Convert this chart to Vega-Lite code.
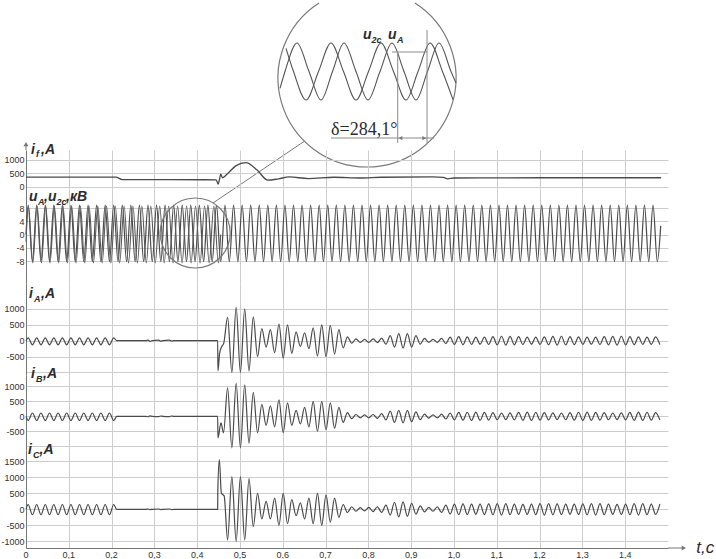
{
"$schema":"https://vega.github.io/schema/vega-lite/v6.json",
"background":"white",
"padding":{"left":0,"top":0,"right":0,"bottom":0},
"spacing":0,
"bounds":"flush",
"resolve":{"scale":{"x":"independent","y":"independent"}},
"config":{"view":{"stroke":null},"axis":{"labelFont":"Liberation Sans","labelFontSize":9,"labelColor":"#333","gridColor":"#cdcdcd","domainColor":"#777","ticks":false,"labelPadding":2,"labelOverlap":false},"text":{"font":"Liberation Sans"}},
"datasets":{
"xl":[{"t":0,"s":"0"},{"t":0.1,"s":"0,1"},{"t":0.2,"s":"0,2"},{"t":0.3,"s":"0,3"},{"t":0.4,"s":"0,4"},{"t":0.5,"s":"0,5"},{"t":0.6,"s":"0,6"},{"t":0.7,"s":"0,7"},{"t":0.8,"s":"0,8"},{"t":0.9,"s":"0,9"},{"t":1.0,"s":"1,0"},{"t":1.1,"s":"1,1"},{"t":1.2,"s":"1,2"},{"t":1.3,"s":"1,3"},{"t":1.4,"s":"1,4"}],
"ua":[{"t":0,"v":0},
{"t":0.005,"v":8.9},{"t":0.015,"v":-8.2},{"t":0.025,"v":8.9},{"t":0.035,"v":-8.2},{"t":0.045,"v":8.9},{"t":0.055,"v":-8.2},{"t":0.065,"v":8.9},{"t":0.075,"v":-8.2},{"t":0.085,"v":8.9},{"t":0.095,"v":-8.2},
{"t":0.105,"v":8.9},{"t":0.115,"v":-8.2},{"t":0.125,"v":8.9},{"t":0.135,"v":-8.2},{"t":0.145,"v":8.9},{"t":0.155,"v":-8.2},{"t":0.165,"v":8.9},{"t":0.175,"v":-8.2},{"t":0.185,"v":8.9},{"t":0.195,"v":-8.2},
{"t":0.205,"v":8.9},{"t":0.215,"v":-8.2},{"t":0.225,"v":8.9},{"t":0.235,"v":-8.2},{"t":0.245,"v":8.9},{"t":0.255,"v":-8.2},{"t":0.265,"v":8.9},{"t":0.275,"v":-8.2},{"t":0.285,"v":8.9},{"t":0.295,"v":-8.2},
{"t":0.305,"v":8.9},{"t":0.315,"v":-8.2},{"t":0.325,"v":8.9},{"t":0.335,"v":-8.2},{"t":0.345,"v":8.9},{"t":0.355,"v":-8.2},{"t":0.365,"v":8.9},{"t":0.375,"v":-8.2},{"t":0.385,"v":8.9},{"t":0.395,"v":-8.2},
{"t":0.405,"v":8.9},{"t":0.415,"v":-8.2},{"t":0.425,"v":8.9},{"t":0.435,"v":-8.2},{"t":0.445,"v":8.9},{"t":0.455,"v":-8.2},{"t":0.465,"v":8.9},{"t":0.475,"v":-8.2},{"t":0.485,"v":8.9},{"t":0.495,"v":-8.2},
{"t":0.505,"v":8.9},{"t":0.515,"v":-8.2},{"t":0.525,"v":8.9},{"t":0.535,"v":-8.2},{"t":0.545,"v":8.9},{"t":0.555,"v":-8.2},{"t":0.565,"v":8.9},{"t":0.575,"v":-8.2},{"t":0.585,"v":8.9},{"t":0.595,"v":-8.2},
{"t":0.605,"v":8.9},{"t":0.615,"v":-8.2},{"t":0.625,"v":8.9},{"t":0.635,"v":-8.2},{"t":0.645,"v":8.9},{"t":0.655,"v":-8.2},{"t":0.665,"v":8.9},{"t":0.675,"v":-8.2},{"t":0.685,"v":8.9},{"t":0.695,"v":-8.2},
{"t":0.705,"v":8.9},{"t":0.715,"v":-8.2},{"t":0.725,"v":8.9},{"t":0.735,"v":-8.2},{"t":0.745,"v":8.9},{"t":0.755,"v":-8.2},{"t":0.765,"v":8.9},{"t":0.775,"v":-8.2},{"t":0.785,"v":8.9},{"t":0.795,"v":-8.2},
{"t":0.805,"v":8.9},{"t":0.815,"v":-8.2},{"t":0.825,"v":8.9},{"t":0.835,"v":-8.2},{"t":0.845,"v":8.9},{"t":0.855,"v":-8.2},{"t":0.865,"v":8.9},{"t":0.875,"v":-8.2},{"t":0.885,"v":8.9},{"t":0.895,"v":-8.2},
{"t":0.905,"v":8.9},{"t":0.915,"v":-8.2},{"t":0.925,"v":8.9},{"t":0.935,"v":-8.2},{"t":0.945,"v":8.9},{"t":0.955,"v":-8.2},{"t":0.965,"v":8.9},{"t":0.975,"v":-8.2},{"t":0.985,"v":8.9},{"t":0.995,"v":-8.2},
{"t":1.005,"v":8.9},{"t":1.015,"v":-8.2},{"t":1.025,"v":8.9},{"t":1.035,"v":-8.2},{"t":1.045,"v":8.9},{"t":1.055,"v":-8.2},{"t":1.065,"v":8.9},{"t":1.075,"v":-8.2},{"t":1.085,"v":8.9},{"t":1.095,"v":-8.2},
{"t":1.105,"v":8.9},{"t":1.115,"v":-8.2},{"t":1.125,"v":8.9},{"t":1.135,"v":-8.2},{"t":1.145,"v":8.9},{"t":1.155,"v":-8.2},{"t":1.165,"v":8.9},{"t":1.175,"v":-8.2},{"t":1.185,"v":8.9},{"t":1.195,"v":-8.2},
{"t":1.205,"v":8.9},{"t":1.215,"v":-8.2},{"t":1.225,"v":8.9},{"t":1.235,"v":-8.2},{"t":1.245,"v":8.9},{"t":1.255,"v":-8.2},{"t":1.265,"v":8.9},{"t":1.275,"v":-8.2},{"t":1.285,"v":8.9},{"t":1.295,"v":-8.2},
{"t":1.305,"v":8.9},{"t":1.315,"v":-8.2},{"t":1.325,"v":8.9},{"t":1.335,"v":-8.2},{"t":1.345,"v":8.9},{"t":1.355,"v":-8.2},{"t":1.365,"v":8.9},{"t":1.375,"v":-8.2},{"t":1.385,"v":8.9},{"t":1.395,"v":-8.2},
{"t":1.405,"v":8.9},{"t":1.415,"v":-8.2},{"t":1.425,"v":8.9},{"t":1.435,"v":-8.2},{"t":1.445,"v":8.9},{"t":1.455,"v":-8.2},{"t":1.465,"v":8.9},{"t":1.475,"v":-8.2},{"t":1.483,"v":2.6}],
"u2c":[{"t":0,"v":-2.2},
{"t":0.0058,"v":8.6},{"t":0.0159,"v":-8.6},{"t":0.026,"v":8.6},{"t":0.0361,"v":-8.6},{"t":0.0462,"v":8.6},{"t":0.0562,"v":-8.6},{"t":0.0663,"v":8.6},{"t":0.0764,"v":-8.6},{"t":0.0865,"v":8.6},{"t":0.0966,"v":-8.6},
{"t":0.1067,"v":8.6},{"t":0.1169,"v":-8.6},{"t":0.127,"v":8.6},{"t":0.1372,"v":-8.6},{"t":0.1474,"v":8.6},{"t":0.1575,"v":-8.6},{"t":0.1677,"v":8.6},{"t":0.1779,"v":-8.6},{"t":0.1881,"v":8.6},{"t":0.1982,"v":-8.6},
{"t":0.2085,"v":8.6},{"t":0.2188,"v":-8.6},{"t":0.2292,"v":8.6},{"t":0.2395,"v":-8.6},{"t":0.2498,"v":8.6},{"t":0.2602,"v":-8.6},{"t":0.2707,"v":8.6},{"t":0.2811,"v":-8.6},{"t":0.2915,"v":8.6},{"t":0.302,"v":-8.6},
{"t":0.3124,"v":8.6},{"t":0.3229,"v":-8.6},{"t":0.3333,"v":8.6},{"t":0.3437,"v":-8.6},{"t":0.3542,"v":8.6},{"t":0.3647,"v":-8.6},{"t":0.3752,"v":8.6},{"t":0.3857,"v":-8.6},{"t":0.3962,"v":8.6},{"t":0.4067,"v":-8.6},
{"t":0.4173,"v":8.6},{"t":0.428,"v":-8.6},{"t":0.4388,"v":8.6},{"t":0.4495,"v":-8.6},{"t":0.455,"v":0}],
"fld":[{"t":0,"v":354},{"t":0.21,"v":354},{"t":0.225,"v":262},{"t":0.4445,"v":252},{"t":0.449,"v":90},{"t":0.4525,"v":300},{"t":0.455,"v":470},{"t":0.459,"v":330},{"t":0.47,"v":470},{"t":0.49,"v":780},{"t":0.514,"v":900},{"t":0.54,"v":620},{"t":0.565,"v":240},{"t":0.59,"v":290},{"t":0.615,"v":360},{"t":0.66,"v":300},{"t":0.72,"v":350},{"t":0.78,"v":320},{"t":0.83,"v":350},{"t":0.95,"v":360},{"t":0.975,"v":345},{"t":0.985,"v":290},{"t":1.0,"v":320},{"t":1.2,"v":330},{"t":1.484,"v":330}],
"cur":[{"t":0,"a":0,"b":0,"c":0},
{"t":0.005,"a":90,"b":-140,"c":150},{"t":0.015,"a":-130,"b":110,"c":-170},{"t":0.025,"a":90,"b":-140,"c":150},{"t":0.035,"a":-130,"b":110,"c":-170},{"t":0.045,"a":90,"b":-140,"c":150},{"t":0.055,"a":-130,"b":110,"c":-170},{"t":0.065,"a":90,"b":-140,"c":150},{"t":0.075,"a":-130,"b":110,"c":-170},{"t":0.085,"a":90,"b":-140,"c":150},{"t":0.095,"a":-130,"b":110,"c":-170},
{"t":0.105,"a":90,"b":-140,"c":150},{"t":0.115,"a":-130,"b":110,"c":-170},{"t":0.125,"a":90,"b":-140,"c":150},{"t":0.135,"a":-130,"b":110,"c":-170},{"t":0.145,"a":90,"b":-140,"c":150},{"t":0.155,"a":-130,"b":110,"c":-170},{"t":0.165,"a":90,"b":-140,"c":150},{"t":0.175,"a":-130,"b":110,"c":-170},{"t":0.185,"a":90,"b":-140,"c":150},{"t":0.195,"a":-130,"b":110,"c":-170},
{"t":0.205,"a":90,"b":-140,"c":150},{"t":0.212,"a":0,"b":0,"c":0},
{"t":0.28,"a":0,"b":0,"c":0},{"t":0.285,"a":20,"b":-15,"c":10},{"t":0.29,"a":-20,"b":15,"c":-10},{"t":0.295,"a":0,"b":0,"c":0},{"t":0.31,"a":15,"b":-10,"c":10},{"t":0.315,"a":-15,"b":10,"c":-10},{"t":0.32,"a":0,"b":0,"c":0},{"t":0.335,"a":15,"b":-10,"c":10},{"t":0.34,"a":-10,"b":10,"c":-10},{"t":0.345,"a":0,"b":0,"c":0},
{"t":0.4478,"a":0,"b":0,"c":0},
{"t":0.4485,"a":-950},{"t":0.4525,"a":-380},{"t":0.458,"a":-170},{"t":0.462,"a":-80},
{"t":0.4485,"b":-720},{"t":0.4555,"b":-220},{"t":0.4615,"b":-550},
{"t":0.4482,"c":600},{"t":0.4517,"c":1550},{"t":0.4565,"c":500},{"t":0.463,"c":420},
{"t":0.471,"a":730,"b":950,"c":-960},{"t":0.481,"a":-1000,"b":-1050,"c":1020},{"t":0.491,"a":1050,"b":1100,"c":-1000},{"t":0.501,"a":-1000,"b":-1050,"c":1020},{"t":0.511,"a":1000,"b":1050,"c":-960},{"t":0.521,"a":-950,"b":-900,"c":960},{"t":0.531,"a":750,"b":800,"c":-540},{"t":0.541,"a":-500,"b":-550,"c":500},{"t":0.551,"a":380,"b":400,"c":-300},{"t":0.561,"a":-200,"b":-300,"c":250},
{"t":0.571,"a":350,"b":350,"c":-300},{"t":0.581,"a":-380,"b":-350,"c":350},{"t":0.591,"a":520,"b":550,"c":-500},{"t":0.601,"a":-550,"b":-550,"c":500},{"t":0.611,"a":500,"b":450,"c":-450},{"t":0.621,"a":-400,"b":-300,"c":300},{"t":0.631,"a":280,"b":200,"c":-200},{"t":0.641,"a":-180,"b":-250,"c":200},{"t":0.651,"a":250,"b":300,"c":-300},{"t":0.661,"a":-250,"b":-350,"c":350},
{"t":0.671,"a":400,"b":500,"c":-450},{"t":0.681,"a":-480,"b":-500,"c":500},{"t":0.691,"a":500,"b":500,"c":-500},{"t":0.701,"a":-500,"b":-450,"c":450},{"t":0.711,"a":480,"b":450,"c":-400},{"t":0.721,"a":-420,"b":-400,"c":350},{"t":0.731,"a":350,"b":300,"c":-250},{"t":0.741,"a":-230,"b":-200,"c":150},{"t":0.751,"a":120,"b":120,"c":-100},{"t":0.761,"a":-80,"b":-80,"c":80},
{"t":0.771,"a":60,"b":60,"c":-60},{"t":0.781,"a":-50,"b":-50,"c":50},{"t":0.791,"a":40,"b":50,"c":-50},{"t":0.801,"a":-50,"b":-50,"c":60},{"t":0.811,"a":60,"b":60,"c":-70},{"t":0.821,"a":-60,"b":-70,"c":80},{"t":0.831,"a":80,"b":90,"c":-100},{"t":0.841,"a":-110,"b":-120,"c":130},{"t":0.851,"a":160,"b":170,"c":-180},{"t":0.861,"a":-200,"b":-200,"c":220},
{"t":0.871,"a":220,"b":200,"c":-240},{"t":0.881,"a":-230,"b":-220,"c":230},{"t":0.891,"a":220,"b":200,"c":-220},{"t":0.901,"a":-200,"b":-180,"c":190},{"t":0.911,"a":160,"b":150,"c":-150},{"t":0.921,"a":-110,"b":-110,"c":110},{"t":0.931,"a":70,"b":70,"c":-80},{"t":0.941,"a":-50,"b":-60,"c":60},{"t":0.951,"a":40,"b":50,"c":-60},{"t":0.961,"a":-50,"b":-50,"c":80},
{"t":0.971,"a":70,"b":70,"c":-100},{"t":0.981,"a":-90,"b":-90,"c":130},{"t":0.991,"a":110,"b":110,"c":-150},{"t":1.001,"a":-120,"b":-120,"c":160},{"t":1.011,"a":130,"b":130,"c":-170},{"t":1.021,"a":-125,"b":-130,"c":170},{"t":1.031,"a":120,"b":135,"c":-165},{"t":1.041,"a":-115,"b":-140,"c":160},{"t":1.051,"a":110,"b":140,"c":-155},{"t":1.061,"a":-110,"b":-135,"c":160},
{"t":1.071,"a":115,"b":130,"c":-165},{"t":1.081,"a":-120,"b":-125,"c":170},{"t":1.091,"a":130,"b":120,"c":-175},{"t":1.101,"a":-135,"b":-115,"c":180},{"t":1.111,"a":140,"b":110,"c":-180},{"t":1.121,"a":-140,"b":-110,"c":175},{"t":1.131,"a":135,"b":115,"c":-170},{"t":1.141,"a":-130,"b":-120,"c":165},{"t":1.151,"a":125,"b":130,"c":-160},{"t":1.161,"a":-120,"b":-135,"c":155},
{"t":1.171,"a":115,"b":140,"c":-160},{"t":1.181,"a":-110,"b":-140,"c":165},{"t":1.191,"a":110,"b":135,"c":-170},{"t":1.201,"a":-115,"b":-130,"c":175},{"t":1.211,"a":120,"b":125,"c":-180},{"t":1.221,"a":-130,"b":-120,"c":180},{"t":1.231,"a":135,"b":115,"c":-175},{"t":1.241,"a":-140,"b":-110,"c":170},{"t":1.251,"a":140,"b":110,"c":-165},{"t":1.261,"a":-135,"b":-115,"c":160},
{"t":1.271,"a":130,"b":120,"c":-155},{"t":1.281,"a":-125,"b":-130,"c":160},{"t":1.291,"a":120,"b":135,"c":-165},{"t":1.301,"a":-115,"b":-140,"c":170},{"t":1.311,"a":110,"b":140,"c":-175},{"t":1.321,"a":-110,"b":-135,"c":180},{"t":1.331,"a":115,"b":130,"c":-180},{"t":1.341,"a":-120,"b":-125,"c":175},{"t":1.351,"a":125,"b":120,"c":-170},{"t":1.361,"a":-130,"b":-115,"c":165},
{"t":1.371,"a":135,"b":110,"c":-160},{"t":1.381,"a":-140,"b":-110,"c":155},{"t":1.391,"a":140,"b":115,"c":-160},{"t":1.401,"a":-135,"b":-120,"c":165},{"t":1.411,"a":130,"b":130,"c":-170},{"t":1.421,"a":-125,"b":-135,"c":175},{"t":1.431,"a":120,"b":140,"c":-180},{"t":1.441,"a":-115,"b":-140,"c":175},{"t":1.451,"a":110,"b":135,"c":-170},{"t":1.461,"a":-115,"b":-130,"c":165},
{"t":1.471,"a":120,"b":125,"c":-160},{"t":1.481,"a":-125,"b":-120,"c":165}],
"ins":[
{"s":"c","ms":-70.83,"v":7.0},{"s":"c","ms":-67.71,"v":0},{"s":"c","ms":-62.5,"v":-8.6},{"s":"c","ms":-57.29,"v":0},{"s":"c","ms":-52.08,"v":8.6},{"s":"c","ms":-46.88,"v":0},{"s":"c","ms":-41.67,"v":-8.6},{"s":"c","ms":-36.46,"v":0},{"s":"c","ms":-31.25,"v":8.6},{"s":"c","ms":-26.04,"v":0},{"s":"c","ms":-20.83,"v":-8.6},{"s":"c","ms":-15.83,"v":0},{"s":"c","ms":-10.83,"v":8.6},{"s":"c","ms":-5.63,"v":0},{"s":"c","ms":-1.25,"v":-8.5},
{"s":"a","ms":-73.33,"v":-5.1},{"s":"a","ms":-71.25,"v":0},{"s":"a","ms":-66.25,"v":8.6},{"s":"a","ms":-61.25,"v":0},{"s":"a","ms":-56.25,"v":-8.6},{"s":"a","ms":-51.46,"v":0},{"s":"a","ms":-46.67,"v":8.6},{"s":"a","ms":-41.67,"v":0},{"s":"a","ms":-36.67,"v":-8.6},{"s":"a","ms":-31.67,"v":0},{"s":"a","ms":-26.67,"v":8.6},{"s":"a","ms":-21.67,"v":0},{"s":"a","ms":-16.67,"v":-8.6},{"s":"a","ms":-11.88,"v":0},{"s":"a","ms":-7.08,"v":8.6},{"s":"a","ms":-2.08,"v":0},{"s":"a","ms":0,"v":-3.5}]
},
"vconcat":[
{"width":642,"height":147,
 "layer":[
  {"data":{"values":[{}]},"mark":{"type":"point","shape":"M -0.5384 -0.8427 A 1 1 0 1 0 0.5384 -0.8427","size":31684,"filled":false,"color":"#7a7a7a","strokeWidth":1.2,"opacity":1},
   "encoding":{"x":{"datum":-37.08,"type":"quantitative","scale":{"domain":[-179.17,88.33]},"axis":null},"y":{"datum":-1.96,"type":"quantitative","scale":{"domain":[-23.69,20.67]},"axis":null}}},
  {"data":{"name":"ins"},"mark":{"type":"line","interpolate":"monotone","color":"#555","strokeWidth":1.1},
   "encoding":{"x":{"field":"ms","type":"quantitative","scale":{"domain":[-179.17,88.33]},"axis":null},"y":{"field":"v","type":"quantitative","scale":{"domain":[-23.69,20.67]},"axis":null},"detail":{"field":"s"}}},
  {"data":{"values":[{}]},"mark":{"type":"rule","color":"#8a8a8a","strokeWidth":1},
   "encoding":{"x":{"datum":-24.29,"type":"quantitative","scale":{"domain":[-179.17,88.33]},"axis":null},"y":{"datum":5.88,"type":"quantitative","scale":{"domain":[-23.69,20.67]},"axis":null},"y2":{"datum":-21.57}}},
  {"data":{"values":[{}]},"mark":{"type":"rule","color":"#8a8a8a","strokeWidth":1},
   "encoding":{"x":{"datum":-12.08,"type":"quantitative","scale":{"domain":[-179.17,88.33]},"axis":null},"y":{"datum":12.52,"type":"quantitative","scale":{"domain":[-23.69,20.67]},"axis":null},"y2":{"datum":-21.57}}},
  {"data":{"values":[{}]},"mark":{"type":"rule","color":"#8a8a8a","strokeWidth":1},
   "encoding":{"x":{"datum":-26.67,"type":"quantitative","scale":{"domain":[-179.17,88.33]},"axis":null},"x2":{"datum":-12.08},"y":{"datum":5.88,"type":"quantitative","scale":{"domain":[-23.69,20.67]},"axis":null}}},
  {"data":{"values":[{}]},"mark":{"type":"rule","color":"#8a8a8a","strokeWidth":1},
   "encoding":{"x":{"datum":-52.08,"type":"quantitative","scale":{"domain":[-179.17,88.33]},"axis":null},"x2":{"datum":-9.17},"y":{"datum":-20.07,"type":"quantitative","scale":{"domain":[-23.69,20.67]},"axis":null}}},
  {"data":{"values":[{}]},"mark":{"type":"rule","color":"#7a7a7a","strokeWidth":1},
   "encoding":{"x":{"datum":-101.25,"type":"quantitative","scale":{"domain":[-179.17,88.33]},"axis":null},"x2":{"datum":-63.33},"y":{"datum":-39.68,"type":"quantitative","scale":{"domain":[-23.69,20.67]},"axis":null},"y2":{"datum":-21.12}}},
  {"data":{"values":[{}]},"mark":{"type":"point","shape":"triangle-left","size":18,"filled":true,"color":"#777","opacity":1},
   "encoding":{"x":{"datum":-23.13,"type":"quantitative","scale":{"domain":[-179.17,88.33]},"axis":null},"y":{"datum":-20.07,"type":"quantitative","scale":{"domain":[-23.69,20.67]},"axis":null}}},
  {"data":{"values":[{}]},"mark":{"type":"point","shape":"triangle-right","size":18,"filled":true,"color":"#777","opacity":1},
   "encoding":{"x":{"datum":-13.25,"type":"quantitative","scale":{"domain":[-179.17,88.33]},"axis":null},"y":{"datum":-20.07,"type":"quantitative","scale":{"domain":[-23.69,20.67]},"axis":null}}},
  {"data":{"values":[{}]},"mark":{"type":"text","text":"u","align":"left","baseline":"alphabetic","fontSize":14,"fontStyle":"italic","fontWeight":"bold","color":"#2b2b2b"},
   "encoding":{"x":{"datum":-38.75,"type":"quantitative","scale":{"domain":[-179.17,88.33]},"axis":null},"y":{"datum":9.9,"type":"quantitative","scale":{"domain":[-23.69,20.67]},"axis":null}}},
  {"data":{"values":[{}]},"mark":{"type":"text","text":"2c","align":"left","baseline":"alphabetic","dx":8.5,"dy":4,"fontSize":9,"fontStyle":"italic","fontWeight":"bold","color":"#2b2b2b"},
   "encoding":{"x":{"datum":-38.75,"type":"quantitative","scale":{"domain":[-179.17,88.33]},"axis":null},"y":{"datum":9.9,"type":"quantitative","scale":{"domain":[-23.69,20.67]},"axis":null}}},
  {"data":{"values":[{}]},"mark":{"type":"text","text":"u","align":"left","baseline":"alphabetic","dx":25,"fontSize":14,"fontStyle":"italic","fontWeight":"bold","color":"#2b2b2b"},
   "encoding":{"x":{"datum":-38.75,"type":"quantitative","scale":{"domain":[-179.17,88.33]},"axis":null},"y":{"datum":9.9,"type":"quantitative","scale":{"domain":[-23.69,20.67]},"axis":null}}},
  {"data":{"values":[{}]},"mark":{"type":"text","text":"A","align":"left","baseline":"alphabetic","dx":34,"dy":4,"fontSize":9,"fontStyle":"italic","fontWeight":"bold","color":"#2b2b2b"},
   "encoding":{"x":{"datum":-38.75,"type":"quantitative","scale":{"domain":[-179.17,88.33]},"axis":null},"y":{"datum":9.9,"type":"quantitative","scale":{"domain":[-23.69,20.67]},"axis":null}}},
  {"data":{"values":[{}]},"mark":{"type":"text","text":"δ=284,1°","align":"left","baseline":"alphabetic","font":"Liberation Serif","fontSize":18,"color":"#2b2b2b"},
   "encoding":{"x":{"datum":-52.08,"type":"quantitative","scale":{"domain":[-179.17,88.33]},"axis":null},"y":{"datum":-19.16,"type":"quantitative","scale":{"domain":[-23.69,20.67]},"axis":null}}}
 ]},
{"width":642,"height":39,
 "resolve":{"axis":{"x":"independent","y":"independent"}},
 "layer":[
  {"data":{"name":"fld"},"mark":{"type":"line","interpolate":"monotone","color":"#4a4a4a","strokeWidth":1.3},
   "encoding":{"x":{"field":"t","type":"quantitative","scale":{"domain":[0,1.5]},"axis":{"grid":true,"values":[0.1,0.2,0.3,0.4,0.5,0.6,0.7,0.8,0.9,1,1.1,1.2,1.3,1.4],"labels":false,"ticks":false,"domain":false,"title":null}},
    "y":{"field":"v","type":"quantitative","scale":{"domain":[-94,1377]},"axis":{"values":[0,500,1000],"grid":true,"title":null,"labelOverlap":false,"labelExpr":"toString(datum.value)"}}}},
  {"data":{"values":[{}]},"mark":{"type":"rule","color":"#777","strokeWidth":1},
   "encoding":{"x":{"datum":0,"type":"quantitative","scale":{"domain":[0,1.5]},"axis":null},"y":{"datum":1377,"type":"quantitative","scale":{"domain":[-94,1377]},"axis":null},"y2":{"datum":1585}}},
  {"data":{"values":[{}]},"mark":{"type":"point","shape":"triangle-up","size":25,"filled":true,"color":"#777","opacity":1},
   "encoding":{"x":{"datum":0,"type":"quantitative","scale":{"domain":[0,1.5]},"axis":null},"y":{"datum":1600,"type":"quantitative","scale":{"domain":[-94,1377]},"axis":null}}},
  {"data":{"values":[{}]},"mark":{"type":"text","text":"i","align":"left","baseline":"alphabetic","fontSize":14,"fontStyle":"italic","fontWeight":"bold","color":"#2b2b2b"},
   "encoding":{"x":{"datum":0.0117,"type":"quantitative","scale":{"domain":[0,1.5]},"axis":null},"y":{"datum":1208,"type":"quantitative","scale":{"domain":[-94,1377]},"axis":null}}},
  {"data":{"values":[{}]},"mark":{"type":"text","text":"f","align":"left","baseline":"alphabetic","dx":5,"dy":3,"fontSize":9,"fontStyle":"italic","fontWeight":"bold","color":"#2b2b2b"},
   "encoding":{"x":{"datum":0.0117,"type":"quantitative","scale":{"domain":[0,1.5]},"axis":null},"y":{"datum":1208,"type":"quantitative","scale":{"domain":[-94,1377]},"axis":null}}},
  {"data":{"values":[{}]},"mark":{"type":"text","text":",A","align":"left","baseline":"alphabetic","dx":10,"fontSize":14,"fontStyle":"italic","fontWeight":"bold","color":"#2b2b2b"},
   "encoding":{"x":{"datum":0.0117,"type":"quantitative","scale":{"domain":[0,1.5]},"axis":null},"y":{"datum":1208,"type":"quantitative","scale":{"domain":[-94,1377]},"axis":null}}}
 ]},
{"width":642,"height":94,
 "resolve":{"axis":{"x":"independent","y":"independent"}},
 "layer":[
  {"data":{"name":"ua"},"mark":{"type":"line","interpolate":"monotone","color":"#4a4a4a","strokeWidth":1.2},
   "encoding":{"x":{"field":"t","type":"quantitative","scale":{"domain":[0,1.5]},"axis":{"grid":true,"values":[0.1,0.2,0.3,0.4,0.5,0.6,0.7,0.8,0.9,1,1.1,1.2,1.3,1.4],"labels":false,"ticks":false,"domain":false,"title":null}},
    "y":{"field":"v","type":"quantitative","scale":{"domain":[-14.64,13.74]},"axis":{"values":[-8,-4,0,4,8],"grid":true,"title":null,"labelOverlap":false,"labelExpr":"toString(datum.value)"}}}},
  {"data":{"name":"u2c"},"mark":{"type":"line","interpolate":"monotone","color":"#5a5a5a","strokeWidth":1.1},
   "encoding":{"x":{"field":"t","type":"quantitative","scale":{"domain":[0,1.5]},"axis":null},"y":{"field":"v","type":"quantitative","scale":{"domain":[-14.64,13.74]},"axis":null}}},
  {"data":{"values":[{}]},"mark":{"type":"point","shape":"circle","size":4900,"filled":false,"color":"#7a7a7a","strokeWidth":1.2,"opacity":1},
   "encoding":{"x":{"datum":0.3953,"type":"quantitative","scale":{"domain":[0,1.5]},"axis":null},"y":{"datum":0.45,"type":"quantitative","scale":{"domain":[-14.64,13.74]},"axis":null}}},
  {"data":{"values":[{}]},"mark":{"type":"text","text":"u","align":"left","baseline":"alphabetic","fontSize":14,"fontStyle":"italic","fontWeight":"bold","color":"#2b2b2b"},
   "encoding":{"x":{"datum":0.007,"type":"quantitative","scale":{"domain":[0,1.5]},"axis":null},"y":{"datum":10.0,"type":"quantitative","scale":{"domain":[-14.64,13.74]},"axis":null}}},
  {"data":{"values":[{}]},"mark":{"type":"text","text":"A","align":"left","baseline":"alphabetic","dx":9,"dy":4,"fontSize":9,"fontStyle":"italic","fontWeight":"bold","color":"#2b2b2b"},
   "encoding":{"x":{"datum":0.007,"type":"quantitative","scale":{"domain":[0,1.5]},"axis":null},"y":{"datum":10.0,"type":"quantitative","scale":{"domain":[-14.64,13.74]},"axis":null}}},
  {"data":{"values":[{}]},"mark":{"type":"text","text":",u","align":"left","baseline":"alphabetic","dx":15,"fontSize":14,"fontStyle":"italic","fontWeight":"bold","color":"#2b2b2b"},
   "encoding":{"x":{"datum":0.007,"type":"quantitative","scale":{"domain":[0,1.5]},"axis":null},"y":{"datum":10.0,"type":"quantitative","scale":{"domain":[-14.64,13.74]},"axis":null}}},
  {"data":{"values":[{}]},"mark":{"type":"text","text":"2c","align":"left","baseline":"alphabetic","dx":27.5,"dy":4,"fontSize":9,"fontStyle":"italic","fontWeight":"bold","color":"#2b2b2b"},
   "encoding":{"x":{"datum":0.007,"type":"quantitative","scale":{"domain":[0,1.5]},"axis":null},"y":{"datum":10.0,"type":"quantitative","scale":{"domain":[-14.64,13.74]},"axis":null}}},
  {"data":{"values":[{}]},"mark":{"type":"text","text":",кВ","align":"left","baseline":"alphabetic","dx":37,"fontSize":14,"fontStyle":"italic","fontWeight":"bold","color":"#2b2b2b"},
   "encoding":{"x":{"datum":0.007,"type":"quantitative","scale":{"domain":[0,1.5]},"axis":null},"y":{"datum":10.0,"type":"quantitative","scale":{"domain":[-14.64,13.74]},"axis":null}}}
 ]},
{"width":642,"height":92,
 "resolve":{"axis":{"x":"independent","y":"independent"}},
 "layer":[
  {"data":{"name":"cur"},"transform":[{"filter":{"field":"a","valid":true}}],"mark":{"type":"line","interpolate":"monotone","color":"#4a4a4a","strokeWidth":1.2},
   "encoding":{"x":{"field":"t","type":"quantitative","scale":{"domain":[0,1.5]},"axis":{"grid":true,"values":[0.1,0.2,0.3,0.4,0.5,0.6,0.7,0.8,0.9,1,1.1,1.2,1.3,1.4],"labels":false,"ticks":false,"domain":false,"title":null}},
    "y":{"field":"a","type":"quantitative","scale":{"domain":[-1079,1814]},"axis":{"values":[-1000,-500,0,500,1000],"grid":true,"title":null,"labelOverlap":false,"labelExpr":"datum.value == -1000 ? '' : toString(datum.value)"}}}},
  {"data":{"values":[{}]},"mark":{"type":"text","text":"i","align":"left","baseline":"alphabetic","fontSize":14,"fontStyle":"italic","fontWeight":"bold","color":"#2b2b2b"},
   "encoding":{"x":{"datum":0.007,"type":"quantitative","scale":{"domain":[0,1.5]},"axis":null},"y":{"datum":1345,"type":"quantitative","scale":{"domain":[-1079,1814]},"axis":null}}},
  {"data":{"values":[{}]},"mark":{"type":"text","text":"A","align":"left","baseline":"alphabetic","dx":5,"dy":4,"fontSize":9,"fontStyle":"italic","fontWeight":"bold","color":"#2b2b2b"},
   "encoding":{"x":{"datum":0.007,"type":"quantitative","scale":{"domain":[0,1.5]},"axis":null},"y":{"datum":1345,"type":"quantitative","scale":{"domain":[-1079,1814]},"axis":null}}},
  {"data":{"values":[{}]},"mark":{"type":"text","text":",A","align":"left","baseline":"alphabetic","dx":12,"fontSize":14,"fontStyle":"italic","fontWeight":"bold","color":"#2b2b2b"},
   "encoding":{"x":{"datum":0.007,"type":"quantitative","scale":{"domain":[0,1.5]},"axis":null},"y":{"datum":1345,"type":"quantitative","scale":{"domain":[-1079,1814]},"axis":null}}}
 ]},
{"width":642,"height":75,
 "resolve":{"axis":{"x":"independent","y":"independent"}},
 "layer":[
  {"data":{"name":"cur"},"transform":[{"filter":{"field":"b","valid":true}}],"mark":{"type":"line","interpolate":"monotone","color":"#4a4a4a","strokeWidth":1.2},
   "encoding":{"x":{"field":"t","type":"quantitative","scale":{"domain":[0,1.5]},"axis":{"grid":true,"values":[0.1,0.2,0.3,0.4,0.5,0.6,0.7,0.8,0.9,1,1.1,1.2,1.3,1.4],"labels":false,"ticks":false,"domain":false,"title":null}},
    "y":{"field":"b","type":"quantitative","scale":{"domain":[-1123,1377]},"axis":{"values":[-1000,-500,0,500,1000],"grid":true,"title":null,"labelOverlap":false,"labelExpr":"datum.value == -1000 ? '' : toString(datum.value)"}}}},
  {"data":{"values":[{}]},"mark":{"type":"text","text":"i","align":"left","baseline":"alphabetic","fontSize":14,"fontStyle":"italic","fontWeight":"bold","color":"#2b2b2b"},
   "encoding":{"x":{"datum":0.0117,"type":"quantitative","scale":{"domain":[0,1.5]},"axis":null},"y":{"datum":1293,"type":"quantitative","scale":{"domain":[-1123,1377]},"axis":null}}},
  {"data":{"values":[{}]},"mark":{"type":"text","text":"B","align":"left","baseline":"alphabetic","dx":5,"dy":4,"fontSize":9,"fontStyle":"italic","fontWeight":"bold","color":"#2b2b2b"},
   "encoding":{"x":{"datum":0.0117,"type":"quantitative","scale":{"domain":[0,1.5]},"axis":null},"y":{"datum":1293,"type":"quantitative","scale":{"domain":[-1123,1377]},"axis":null}}},
  {"data":{"values":[{}]},"mark":{"type":"text","text":",A","align":"left","baseline":"alphabetic","dx":12,"fontSize":14,"fontStyle":"italic","fontWeight":"bold","color":"#2b2b2b"},
   "encoding":{"x":{"datum":0.0117,"type":"quantitative","scale":{"domain":[0,1.5]},"axis":null},"y":{"datum":1293,"type":"quantitative","scale":{"domain":[-1123,1377]},"axis":null}}}
 ]},
{"width":642,"height":98,
 "resolve":{"axis":{"x":"independent","y":"independent"}},
 "layer":[
  {"data":{"name":"cur"},"transform":[{"filter":{"field":"c","valid":true}}],"mark":{"type":"line","interpolate":"monotone","color":"#4a4a4a","strokeWidth":1.2},
   "encoding":{"x":{"field":"t","type":"quantitative","scale":{"domain":[0,1.5]},"axis":{"grid":true,"values":[0.1,0.2,0.3,0.4,0.5,0.6,0.7,0.8,0.9,1,1.1,1.2,1.3,1.4],"labels":false,"ticks":false,"domain":true,"title":null}},
    "y":{"field":"c","type":"quantitative","scale":{"domain":[-1209,1853]},"axis":{"values":[-1000,-500,0,500,1000,1500],"grid":true,"title":null,"labelOverlap":false,"labelExpr":"toString(datum.value)"}}}},
  {"data":{"name":"xl"},"mark":{"type":"text","align":"center","baseline":"top","dy":3,"fontSize":9,"color":"#333"},
   "encoding":{"x":{"field":"t","type":"quantitative","scale":{"domain":[0,1.5]},"axis":null},"y":{"datum":-1209,"type":"quantitative","scale":{"domain":[-1209,1853]},"axis":null},"text":{"field":"s"}}},
  {"data":{"values":[{}]},"mark":{"type":"text","text":"i","align":"left","baseline":"alphabetic","fontSize":14,"fontStyle":"italic","fontWeight":"bold","color":"#2b2b2b"},
   "encoding":{"x":{"datum":0.0047,"type":"quantitative","scale":{"domain":[0,1.5]},"axis":null},"y":{"datum":1728,"type":"quantitative","scale":{"domain":[-1209,1853]},"axis":null}}},
  {"data":{"values":[{}]},"mark":{"type":"text","text":"C","align":"left","baseline":"alphabetic","dx":5,"dy":4,"fontSize":9,"fontStyle":"italic","fontWeight":"bold","color":"#2b2b2b"},
   "encoding":{"x":{"datum":0.0047,"type":"quantitative","scale":{"domain":[0,1.5]},"axis":null},"y":{"datum":1728,"type":"quantitative","scale":{"domain":[-1209,1853]},"axis":null}}},
  {"data":{"values":[{}]},"mark":{"type":"text","text":",A","align":"left","baseline":"alphabetic","dx":11.5,"fontSize":14,"fontStyle":"italic","fontWeight":"bold","color":"#2b2b2b"},
   "encoding":{"x":{"datum":0.0047,"type":"quantitative","scale":{"domain":[0,1.5]},"axis":null},"y":{"datum":1728,"type":"quantitative","scale":{"domain":[-1209,1853]},"axis":null}}},
  {"data":{"values":[{}]},"mark":{"type":"rule","color":"#777","strokeWidth":1},
   "encoding":{"x":{"datum":1.5,"type":"quantitative","scale":{"domain":[0,1.5]},"axis":null},"x2":{"datum":1.533},"y":{"datum":-1209,"type":"quantitative","scale":{"domain":[-1209,1853]},"axis":null}}},
  {"data":{"values":[{}]},"mark":{"type":"point","shape":"triangle-right","size":25,"filled":true,"color":"#777","opacity":1},
   "encoding":{"x":{"datum":1.537,"type":"quantitative","scale":{"domain":[0,1.5]},"axis":null},"y":{"datum":-1209,"type":"quantitative","scale":{"domain":[-1209,1853]},"axis":null}}},
  {"data":{"values":[{}]},"mark":{"type":"text","text":"t,c","align":"left","baseline":"middle","fontSize":17,"fontStyle":"italic","color":"#2b2b2b"},
   "encoding":{"x":{"datum":1.566,"type":"quantitative","scale":{"domain":[0,1.5]},"axis":null},"y":{"datum":-1209,"type":"quantitative","scale":{"domain":[-1209,1853]},"axis":null}}}
 ]}
]
}
